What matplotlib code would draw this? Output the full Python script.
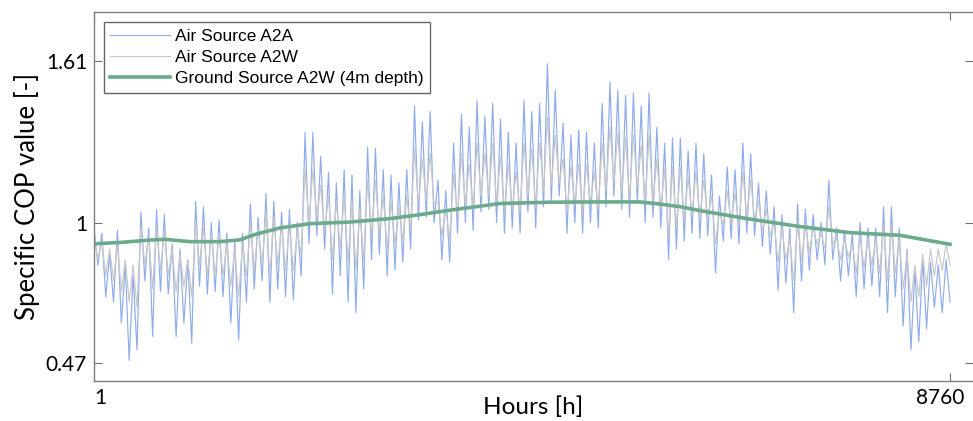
import numpy as np
import matplotlib
matplotlib.use("Agg")
import matplotlib.pyplot as plt
import matplotlib.transforms as mtransforms

# 逐时 COP 数据（从图中读取的峰/谷值，按时间顺序）
a2a_values = [
    0.98, 0.84, 0.96, 0.72, 0.88, 0.70, 0.97, 0.62, 0.84, 0.48,
    0.80, 0.52, 1.04, 0.78, 0.98, 0.57, 1.05, 0.74, 1.03, 0.73,
    0.92, 0.57, 0.90, 0.62, 0.86, 0.545, 1.08, 0.76, 1.06, 0.73,
    1.00, 0.74, 1.01, 0.72, 0.96, 0.62, 0.93, 0.556, 0.96, 0.70,
    1.07, 0.75, 1.02, 0.78, 1.11, 0.70, 1.08, 0.75, 1.04, 0.72,
    1.05, 0.71, 1.00, 0.80, 1.34, 0.92, 1.34, 0.95, 1.25, 0.90,
    1.19, 0.73, 1.15, 0.80, 1.20, 0.70, 1.18, 0.66, 1.12, 0.75,
    1.285, 0.86, 1.28, 0.88, 1.20, 0.80, 1.18, 0.82, 1.15, 0.85,
    1.20, 0.90, 1.44, 1.01, 1.38, 1.02, 1.42, 1.00, 1.16, 0.86,
    1.12, 0.85, 1.30, 0.96, 1.41, 1.00, 1.36, 0.97, 1.46, 1.04,
    1.40, 1.05, 1.45, 1.00, 1.39, 0.96, 1.34, 0.98, 1.30, 0.96,
    1.46, 1.04, 1.42, 0.98, 1.45, 1.06, 1.60, 1.08, 1.50, 1.10,
    1.375, 0.96, 1.33, 1.00, 1.35, 0.96, 1.34, 1.00, 1.30, 0.98,
    1.45, 1.06, 1.53, 1.10, 1.50, 1.05, 1.48, 1.02, 1.49, 1.08,
    1.44, 1.00, 1.49, 1.02, 1.36, 0.98, 1.30, 0.86, 1.32, 0.90,
    1.32, 0.93, 1.27, 0.96, 1.30, 0.94, 1.26, 0.95, 1.18, 0.81,
    1.10, 0.93, 1.21, 0.94, 1.20, 0.92, 1.30, 0.96, 1.26, 0.95,
    1.15, 0.91, 1.12, 0.88, 1.06, 0.745, 1.03, 0.77, 0.98, 0.66,
    1.07, 0.78, 1.05, 0.82, 1.03, 0.86, 1.00, 0.84, 1.16, 0.86,
    0.98, 0.78, 0.97, 0.80, 0.96, 0.72, 1.00, 0.75, 0.98, 0.76,
    0.98, 0.72, 1.06, 0.66, 1.06, 0.72, 0.98, 0.61, 0.90, 0.52,
    0.82, 0.55, 0.86, 0.60, 0.85, 0.68, 0.84, 0.66, 0.86, 0.70,
]

a2w_values = [
    0.95, 0.86, 0.93, 0.80, 0.90, 0.78, 0.92, 0.74, 0.86, 0.70,
    0.84, 0.68, 0.98, 0.84, 0.95, 0.75, 0.98, 0.82, 0.97, 0.80,
    0.90, 0.74, 0.88, 0.76, 0.86, 0.72, 1.00, 0.84, 0.98, 0.80,
    0.96, 0.80, 0.96, 0.80, 0.92, 0.76, 0.90, 0.72, 0.92, 0.80,
    1.00, 0.82, 0.98, 0.84, 1.04, 0.80, 1.02, 0.84, 0.99, 0.82,
    0.99, 0.82, 0.97, 0.88, 1.20, 1.00, 1.20, 1.02, 1.14, 0.97,
    1.10, 0.86, 1.08, 0.90, 1.10, 0.85, 1.08, 0.82, 1.05, 0.86,
    1.16, 0.95, 1.16, 0.96, 1.10, 0.90, 1.08, 0.92, 1.06, 0.93,
    1.10, 0.97, 1.28, 1.07, 1.24, 1.08, 1.26, 1.07, 1.08, 0.95,
    1.05, 0.94, 1.18, 1.03, 1.26, 1.07, 1.22, 1.05, 1.30, 1.10,
    1.26, 1.10, 1.30, 1.07, 1.25, 1.04, 1.22, 1.05, 1.19, 1.04,
    1.30, 1.10, 1.28, 1.06, 1.30, 1.12, 1.40, 1.14, 1.33, 1.15,
    1.24, 1.04, 1.21, 1.07, 1.22, 1.04, 1.22, 1.07, 1.19, 1.05,
    1.30, 1.12, 1.36, 1.15, 1.34, 1.11, 1.32, 1.09, 1.33, 1.13,
    1.29, 1.07, 1.33, 1.08, 1.24, 1.05, 1.20, 0.95, 1.21, 0.98,
    1.21, 1.01, 1.17, 1.03, 1.19, 1.02, 1.16, 1.02, 1.10, 0.92,
    1.04, 0.99, 1.12, 1.00, 1.11, 0.99, 1.19, 1.02, 1.16, 1.01,
    1.08, 0.97, 1.05, 0.95, 1.00, 0.85, 0.98, 0.86, 0.94, 0.78,
    1.00, 0.86, 0.99, 0.89, 0.98, 0.92, 0.96, 0.90, 1.06, 0.92,
    0.94, 0.86, 0.94, 0.87, 0.92, 0.81, 0.95, 0.83, 0.94, 0.84,
    0.94, 0.81, 0.99, 0.78, 0.99, 0.81, 0.94, 0.75, 0.88, 0.70,
    0.84, 0.72, 0.88, 0.76, 0.90, 0.80, 0.90, 0.82, 0.92, 0.84,
]

# 地源热泵（4m 深度）平滑曲线
ground_hours = [1, 267, 574, 728, 983, 1290, 1495, 1648, 1904, 2211,
                2620, 3030, 3337, 3644, 4156, 4667, 5179, 5588, 5793, 5998,
                6203, 6715, 7226, 7738, 8249, 8760]
ground_values = [0.920, 0.925, 0.934, 0.937, 0.928, 0.928, 0.935, 0.955, 0.980, 0.996,
                 1.002, 1.015, 1.030, 1.047, 1.072, 1.077, 1.078, 1.078, 1.070, 1.060,
                 1.045, 1.013, 0.985, 0.962, 0.952, 0.918]

x_ticks = [1, 8760]
y_ticks = [0.47, 1, 1.61]
y_tick_labels = ["0.47", "1", "1.61"]

hours = np.linspace(1, 8760, len(a2a_values))

fig = plt.figure(figsize=(9.73, 4.21), dpi=100)
ax = fig.add_axes([94 / 973, 40 / 421, 879 / 973, 369 / 421])

ax.plot(hours, a2a_values, color="#8FACEA", lw=0.85, label="Air Source A2A")
ax.plot(hours, a2w_values, color="#C8C8C8", lw=0.85, label="Air Source A2W")
ax.plot(ground_hours, ground_values, color="#6BAA8C", lw=2.6,
        label="Ground Source A2W (4m depth)")

ax.set_xlim(1, 8995)
ax.set_ylim(0.402, 1.795)

ax.set_xticks(x_ticks)
ax.set_xticklabels([str(v) for v in x_ticks])
ax.set_yticks(y_ticks)
ax.set_yticklabels(y_tick_labels)

ax.tick_params(direction="in", length=6, width=0.8, color="#707070",
               top=True, right=True, pad=5)
for side, sp in ax.spines.items():
    sp.set_color("#808080")
    sp.set_linewidth(1.0)
ax.spines["right"].set_visible(False)

for lbl in ax.get_xticklabels() + ax.get_yticklabels():
    lbl.set_fontfamily("Lato")
    lbl.set_fontsize(15)

# x 轴两端标签稍微错开（与原图一致），必须在 tick_params 之后设置
xlbls = ax.get_xticklabels()
xlbls[0].set_transform(xlbls[0].get_transform() +
                       mtransforms.ScaledTranslation(6 / 100, 0, fig.dpi_scale_trans))
xlbls[1].set_transform(xlbls[1].get_transform() +
                       mtransforms.ScaledTranslation(-10 / 100, 0, fig.dpi_scale_trans))

ax.set_xlabel("Hours [h]", fontfamily="Lato", fontsize=17.5, labelpad=-8)
ax.set_ylabel("Specific COP value [-]", fontfamily="Lato", fontsize=18.5, labelpad=4)

leg = ax.legend(loc="upper left", prop={"family": "Liberation Sans", "size": 12.5},
                frameon=True, fancybox=False, borderaxespad=0.55,
                handlelength=3.4, handletextpad=0.3, labelspacing=0.36,
                borderpad=0.4)
leg.get_frame().set_edgecolor("#404040")
leg.get_frame().set_linewidth(1.0)

fig.savefig("out.png", dpi=100, facecolor="white")
